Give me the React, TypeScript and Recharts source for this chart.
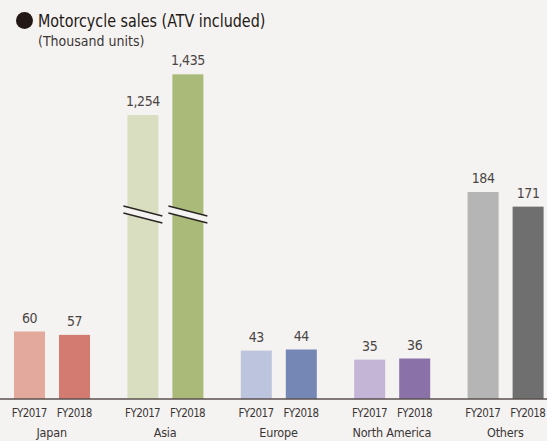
import { BarChart, Bar, XAxis, YAxis, Cell, LabelList } from "recharts";

const categories = ["Japan", "Asia", "Europe", "North America", "Others"];
const years = ["FY2017", "FY2018"];
const fy2017 = [60, 1254, 43, 35, 184];
const fy2018 = [57, 1435, 44, 36, 171];

const colors2017 = ["#e2a99c", "#d9dec1", "#bdc4dd", "#c4b5d7", "#b5b5b5"];
const colors2018 = ["#d37b70", "#a9ba79", "#7487b5", "#8a72a8", "#6f6f6f"];

// broken axis: values above LIMIT are cut at CUT and the rest drawn squeezed
const LIMIT = 300;
const CUT = 164;
const SQUEEZE_FROM = 812;
const SQUEEZE = 0.2;
const shown = (v: number) => (v <= LIMIT ? v : CUT + (v - SQUEEZE_FROM) * SQUEEZE);

const BG = "#f5f3f1";
const FONT = "'DejaVu Sans Condensed', 'Liberation Sans Narrow', sans-serif";

const data = categories.map((name, i) => ({
  name,
  fy2017: fy2017[i],
  fy2018: fy2018[i],
  s2017: shown(fy2017[i]),
  s2018: shown(fy2018[i]),
}));

function BreakBar(props: any) {
  const { x, y, width, height, fill, payload, k } = props;
  const rect = <rect x={x} y={y} width={width} height={height} fill={fill} />;
  if (payload["fy" + k] <= LIMIT) return rect;
  const val = payload["s" + k];
  const yc = y + height - (height * CUT) / val;
  const x1 = x - 4;
  const x2 = x + width + 4;
  const gap = 3.5;
  const tilt = 5;
  return (
    <g>
      {rect}
      <polygon
        points={`${x1},${yc - tilt - gap} ${x2},${yc + tilt - gap} ${x2},${yc + tilt + gap} ${x1},${yc - tilt + gap}`}
        fill={BG}
      />
      <line x1={x1} y1={yc - tilt - gap} x2={x2} y2={yc + tilt - gap} stroke="#2b2523" strokeWidth={1.3} />
      <line x1={x1} y1={yc - tilt + gap} x2={x2} y2={yc + tilt + gap} stroke="#2b2523" strokeWidth={1.3} />
    </g>
  );
}

function GroupTick({ x, y, payload }: any) {
  return (
    <g fontFamily={FONT} fill="#3b3636">
      <text x={x - 22.5} y={y + 18} textAnchor="middle" fontSize={11.5} letterSpacing={-0.6}>
        {years[0]}
      </text>
      <text x={x + 22.5} y={y + 18} textAnchor="middle" fontSize={11.5} letterSpacing={-0.6}>
        {years[1]}
      </text>
      <text x={x} y={y + 38} textAnchor="middle" fontSize={12.5} letterSpacing={-0.2}>
        {payload.value}
      </text>
    </g>
  );
}

const fmt = (v: any) => Number(v).toLocaleString("en-US");

export default function App() {
  return (
    <div
      style={{
        position: "absolute",
        left: 0,
        top: 0,
        width: 547,
        height: 441,
        overflow: "hidden",
        background: BG,
        fontFamily: FONT,
      }}
    >
      <span
        style={{
          position: "absolute",
          left: 16,
          top: 12,
          width: 17,
          height: 17,
          borderRadius: "50%",
          background: "#231815",
        }}
      />
      <div
        style={{
          position: "absolute",
          left: 38,
          top: 7,
          color: "#231815",
          fontSize: 18.5,
          lineHeight: "28px",
          whiteSpace: "nowrap",
          transform: "scaleX(0.86)",
          transformOrigin: "0 0",
        }}
      >
        Motorcycle sales (ATV included)
      </div>
      <div style={{ position: "absolute", left: 38, top: 33, color: "#3b3636", fontSize: 14, whiteSpace: "nowrap" }}>
        (Thousand units)
      </div>
      <div style={{ position: "absolute", left: -5, top: 0 }}>
        <BarChart
          width={567}
          height={441}
          data={data}
          margin={{ top: 61.5, right: 0, bottom: 0, left: 0 }}
          barSize={31}
          barGap={14}
        >
          <XAxis
            dataKey="name"
            axisLine={{ stroke: "#5a504e", strokeWidth: 1.3 }}
            tickLine={false}
            tickSize={0}
            tickMargin={0}
            height={42}
            interval={0}
            tick={<GroupTick />}
          />
          <YAxis hide domain={[0, 300]} />
          <Bar dataKey="s2017" isAnimationActive={false} shape={(p: any) => <BreakBar {...p} k="2017" />}>
            {colors2017.map((c, i) => (
              <Cell key={i} fill={c} />
            ))}
            <LabelList dataKey="fy2017" position="top" offset={9} formatter={fmt} fill="#4a4545" fontSize={14} letterSpacing={-0.4} fontFamily={FONT} />
          </Bar>
          <Bar dataKey="s2018" isAnimationActive={false} shape={(p: any) => <BreakBar {...p} k="2018" />}>
            {colors2018.map((c, i) => (
              <Cell key={i} fill={c} />
            ))}
            <LabelList dataKey="fy2018" position="top" offset={9} formatter={fmt} fill="#4a4545" fontSize={14} letterSpacing={-0.4} fontFamily={FONT} />
          </Bar>
        </BarChart>
      </div>
    </div>
  );
}
